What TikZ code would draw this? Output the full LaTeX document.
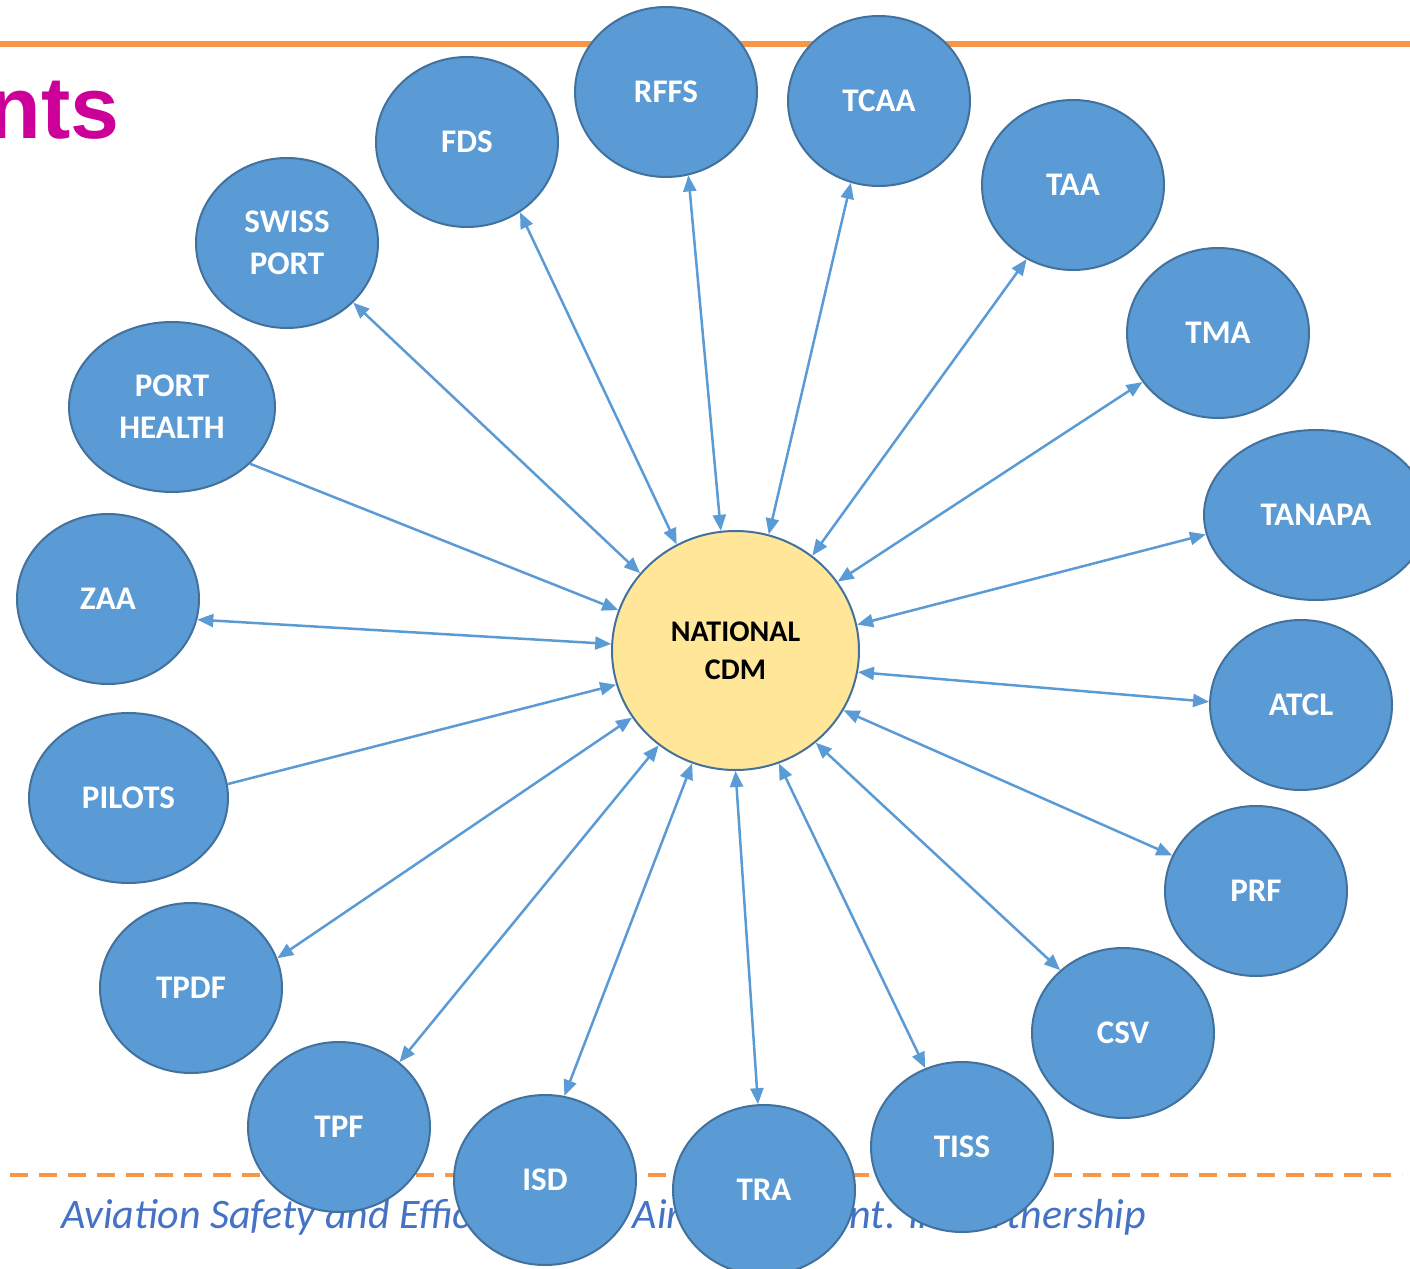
\documentclass[tikz,border=0pt]{standalone}
\usepackage{fontspec}
\setmainfont{Carlito}
\newfontfamily\arialfont{Liberation Sans}
\usetikzlibrary{shapes.geometric,arrows.meta}
\definecolor{nodefill}{HTML}{5B9BD5}
\definecolor{nodeline}{HTML}{41719C}
\definecolor{hubfill}{HTML}{FFE699}
\definecolor{orangeline}{HTML}{F79646}
\definecolor{titlemag}{HTML}{CC0099}
\definecolor{footblue}{HTML}{4472C4}
\begin{document}
\begin{tikzpicture}[x=0.5pt,y=-0.5pt,
  member/.style={ellipse, draw=nodeline, line width=1pt, fill=nodefill, text=white,
    inner sep=0pt, minimum width=91pt, minimum height=85pt, align=center,
    font=\bfseries\fontsize{16.5}{21}\selectfont},
  hub/.style={ellipse, draw=nodeline, line width=1pt, fill=hubfill, text=black,
    inner sep=0pt, minimum width=123.5pt, minimum height=119.5pt, align=center,
    font=\bfseries\fontsize{15}{19}\selectfont},
  link/.style={draw=nodefill, line width=1.25pt, {Triangle[length=8pt,width=6.5pt]}-{Triangle[length=8pt,width=6.5pt]}},
  inlink/.style={draw=nodefill, line width=1.25pt, -{Triangle[length=8pt,width=6.5pt]}}
]
\useasboundingbox (0,0) rectangle (1410,1269);
\clip (0,0) rectangle (1410,1269);
\fill[white] (0,0) rectangle (1410,1269);

% header rule and title fragment
\coordinate (hl) at (0,43.5);
\coordinate (hr) at (1410,43.5);
\draw[orangeline, line width=3pt] (hl) -- (hr);
\node[anchor=base east, inner sep=0pt, text=titlemag, font=\arialfont\bfseries\fontsize{44}{50}\selectfont] (title) at (120,138) {nts};

% footer rule and text
\coordinate (fl) at (10,1175);
\coordinate (fr) at (1402,1175);
\draw[orangeline, line width=2pt, dash pattern=on 9pt off 5.5pt] (fl) -- (fr);
\node[anchor=base west, inner sep=0pt, text=footblue, font=\itshape\fontsize{21}{26}\selectfont] (footer) at (61,1228) {Aviation Safety and Efficiency, for Air Craft Agent. In Partnership};

% nodes
\node[hub] (hub) at (735.5,650.5) {NATIONAL\\CDM};
\node[member] (swiss) at (287,243) {SWISS\\PORT};
\node[member] (fds) at (467,142) {FDS};
\node[member] (rffs) at (666,92) {RFFS};
\node[member] (tcaa) at (879,101) {TCAA};
\node[member] (taa) at (1073,185) {TAA};
\node[member] (tma) at (1218,333) {TMA};
\node[member, minimum width=112pt] (tanapa) at (1316,515) {TANAPA};
\node[member] (atcl) at (1301,705) {ATCL};
\node[member] (prf) at (1256,891) {PRF};
\node[member] (csv) at (1123,1033) {CSV};
\node[member] (tiss) at (962,1147) {TISS};
\node[member] (tra) at (764,1190) {TRA};
\node[member] (isd) at (545,1180) {ISD};
\node[member] (tpf) at (339,1127) {TPF};
\node[member] (tpdf) at (191,988) {TPDF};
\node[member, minimum width=99.5pt] (pilots) at (128.5,798) {PILOTS};
\node[member] (zaa) at (108,599) {ZAA};
\node[member, minimum width=103pt] (porth) at (172,407) {PORT\\HEALTH};

% connectors
\draw[link] (swiss.-42.4) -- (hub.141.6);
\draw[link] (fds.-53.8) -- (hub.119.7);
\draw[link] (rffs.-75) -- (hub.97);
\draw[link] (tcaa.-109.7) -- (hub.74.8);
\draw[link] (taa.-122.6) -- (hub.51);
\draw[link] (tma.213.9) -- (hub.34.5);
\draw[link] (tanapa.190.1) -- (hub.12.7);
\draw[link] (atcl.178.7) -- (hub.-10.9);
\draw[link] (prf.157.9) -- (hub.-29.7);
\draw[link] (csv.135.9) -- (hub.-49.6);
\draw[link] (tiss.115.7) -- (hub.-69);
\draw[link] (tra.94.5) -- (hub.-90.9);
\draw[link] (isd.77.2) -- (hub.-111.2);
\draw[link] (tpf.47.2) -- (hub.-129.7);
\draw[link] (tpdf.19.9) -- (hub.-147.9);
\draw[inlink] (pilots.8.6) -- (hub.-164.2);
\draw[link] (zaa.-13.7) -- (hub.177.7);
\draw[inlink] (porth.-36) -- (hub.161.4);
\end{tikzpicture}
\end{document}
